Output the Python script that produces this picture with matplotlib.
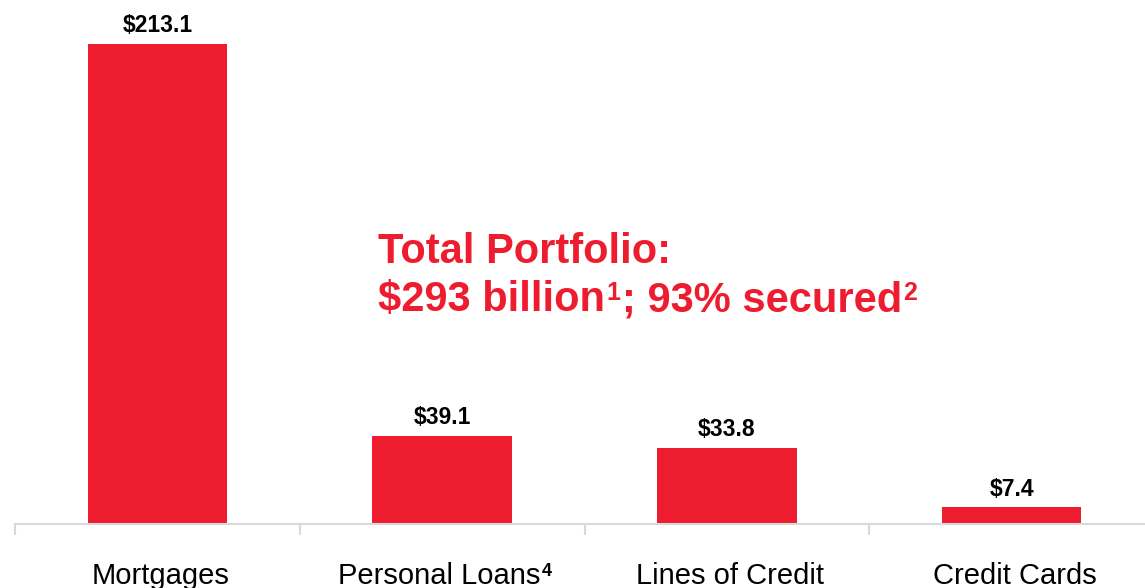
import matplotlib
matplotlib.use("Agg")
import matplotlib.pyplot as plt
from matplotlib.transforms import IdentityTransform

plt.rcParams['font.family'] = ['Liberation Sans', 'DejaVu Sans']

categories = ["Mortgages", "Personal Loans", "Lines of Credit", "Credit Cards"]
category_notes = ["", "4", "", ""]
balances = [213.1, 39.1, 33.8, 7.4]
value_labels = ["$213.1", "$39.1", "$33.8", "$7.4"]
headline_1 = [("Total Portfolio:", "")]
headline_2 = [("$293 billion", "1"), ("; 93% secured", "2")]

RED = "#ED1C2E"
GREY = "#D9D9D9"
W, H = 1145, 588

fig = plt.figure(figsize=(W / 100, H / 100), dpi=100)
ax = fig.add_axes([15 / W, 64 / H, 1139 / W, 524 / H])

x = list(range(len(categories)))
ax.bar(x, balances, width=0.49, color=RED, zorder=2)

for xi, v, lab in zip(x, balances, value_labels):
    ax.annotate(lab, (xi, v), xytext=(0, 8.5), textcoords="offset points",
                ha="center", va="baseline", fontsize=16.5, fontweight="bold",
                color="#000000")

ax.set_xlim(-0.5, 3.5)
ax.set_ylim(0, 232.6)

for s in ("top", "right", "left"):
    ax.spines[s].set_visible(False)
ax.spines["bottom"].set_color(GREY)
ax.spines["bottom"].set_linewidth(1.5)

ax.set_yticks([])
ax.set_xticks([i - 0.5 for i in range(len(categories) + 1)])
ax.set_xticklabels([])
ax.tick_params(axis="x", which="major", length=8, width=1.5, color=GREY)

renderer = fig.canvas.get_renderer()
ident = IdentityTransform()


def rich_line(x_px, base_px, parts, size, weight, color, sup_size, sup_rise,
              sup_weight, align="left", sup_pad=(1, 2)):
    """Draw runs of text followed by raised superscript notes on one baseline."""
    runs = []
    for body, note in parts:
        runs.append((body, size, 0, weight, 0, 0))
        if note:
            runs.append((note, sup_size, sup_rise, sup_weight, *sup_pad))
    artists = []
    for txt, sz, rise, wt, pre, post in runs:
        t = fig.text(0, 0, txt, fontsize=sz, fontweight=wt, color=color,
                     ha="left", va="baseline", transform=ident)
        artists.append((t, rise, pre, post))
    widths = [t.get_window_extent(renderer).width for t, *_ in artists]
    total = sum(widths) + sum(pre + post for _, _, pre, post in artists)
    cur = x_px - total / 2 if align == "center" else x_px
    y0 = H - base_px
    for (t, rise, pre, post), w in zip(artists, widths):
        cur += pre
        t.set_position((cur, y0 + rise))
        cur += w + post


# category names below the axis
for xi, name, note in zip(x, categories, category_notes):
    cx = ax.transData.transform((xi, 0))[0] + 3
    rich_line(cx, 584, [(name, note)], 21, "normal", "#000000",
              13, 8, "bold", align="center", sup_pad=(1, 0))

# portfolio headline
rich_line(378, 263, headline_1, 30, "bold", RED, 18, 11, "bold")
rich_line(378, 311, headline_2, 30, "bold", RED, 18, 11, "bold")

fig.savefig("out.png", dpi=100)
